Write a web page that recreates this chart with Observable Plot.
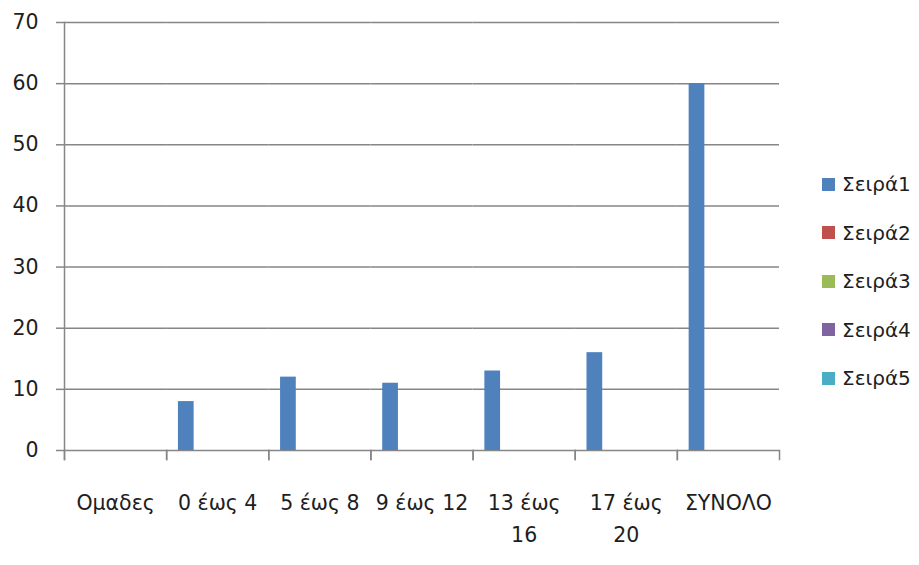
<!DOCTYPE html>
<html>
<head>
<meta charset="utf-8">
<script src="https://cdn.jsdelivr.net/npm/d3@7"></script>
<script src="https://cdn.jsdelivr.net/npm/@observablehq/plot@0.6"></script>
<style>
  html, body { margin: 0; padding: 0; background: #fff; }
  #chart { position: relative; width: 919px; height: 565px; }
  #legend { position: absolute; left: 822px; top: 160px; }
  #legend .lg-swatch { height: 48.5px; padding-bottom: 0 !important; }
  #legend .lg-swatch > svg { margin-right: 7px !important; }
  #legend .lg-swatch-label { overflow: visible !important; text-overflow: clip !important; }
</style>
</head>
<body>
<div id="chart"><div id="legend"></div></div>
<script>
// Age groups along the horizontal axis
const categories = ["Ομαδες", "0 έως 4", "5 έως 8", "9 έως 12", "13 έως 16", "17 έως 20", "ΣΥΝΟΛΟ"];
// Tick labels as printed (long ones wrap onto two lines)
const categoryLabels = ["Ομαδες", "0 έως 4", "5 έως 8", "9 έως 12", "13 έως\n16", "17 έως\n20", "ΣΥΝΟΛΟ"];

// Series names and their colours
const seriesNames = ["Σειρά1", "Σειρά2", "Σειρά3", "Σειρά4", "Σειρά5"];
const seriesColors = ["#4F81BD", "#C0504D", "#9BBB59", "#8064A2", "#4BACC6"];

// Values per category (null = empty cell)
const series1 = [null, 8, 12, 11, 13, 16, 60];
const series2 = [null, null, null, null, null, null, null];
const series3 = [null, null, null, null, null, null, null];
const series4 = [null, null, null, null, null, null, null];
const series5 = [null, null, null, null, null, null, null];

// Value axis ticks
const yTicks = [0, 10, 20, 30, 40, 50, 60, 70];

// Long-format table for the grouped bars; empty cells are kept so every
// category keeps its slot on the axis
const allSeries = [series1, series2, series3, series4, series5];
const rows = [];
allSeries.forEach((vals, s) => {
  vals.forEach((v, c) => {
    rows.push({category: categories[c], series: seriesNames[s], value: v});
  });
});

const width = 919, height = 565;
const marginTop = 22, marginBottom = 115, marginLeft = 64, marginRight = 140;
const innerHeight = height - marginTop - marginBottom;
const lineColor = "#868686";
const textColor = "#1e1e1e";
const font = "'DejaVu Sans', sans-serif";

const chart = Plot.plot({
  width, height, marginTop, marginBottom, marginLeft, marginRight,
  style: {fontFamily: font, fontSize: "20.5px", color: textColor, background: "#fff"},
  fx: {domain: categories, padding: 0, round: false, label: null},
  x: {domain: seriesNames, paddingInner: 0, paddingOuter: 0.75, round: false, axis: null},
  y: {domain: [0, 70], label: null},
  color: {domain: seriesNames, range: seriesColors},
  marks: [
    // horizontal gridlines
    Plot.ruleY(yTicks, {stroke: lineColor, strokeWidth: 1.5}),
    // value axis line, reaching down to the first category tick
    Plot.frame({anchor: "left", facetAnchor: "left", insetBottom: -9, stroke: lineColor, strokeWidth: 1.5}),
    // category boundary ticks below the baseline
    Plot.frame({anchor: "left", insetTop: innerHeight, insetBottom: -9, stroke: lineColor, strokeWidth: 1.5}),
    Plot.frame({anchor: "right", insetTop: innerHeight, insetBottom: -9, stroke: lineColor, strokeWidth: 1.5}),
    // clustered columns
    Plot.barY(rows, {fx: "category", x: "series", y: "value", fill: "series"}),
    Plot.axisY({ticks: yTicks, tickSize: 8, tickPadding: 18, stroke: lineColor, strokeWidth: 1.5, fill: textColor, label: null}),
    Plot.axisFx({anchor: "bottom", tickSize: 0, tickPadding: 37, lineHeight: 1.55, fill: textColor, label: null,
      tickFormat: d => categoryLabels[categories.indexOf(d)]})
  ]
});

document.getElementById("chart").prepend(chart);

const legend = chart.legend("color", {
  legend: "swatches",
  className: "lg",
  columns: 1,
  swatchSize: 13,
  style: {fontFamily: font, fontSize: "20px", color: textColor, margin: "0"}
});
document.getElementById("legend").appendChild(legend);
</script>
</body>
</html>
